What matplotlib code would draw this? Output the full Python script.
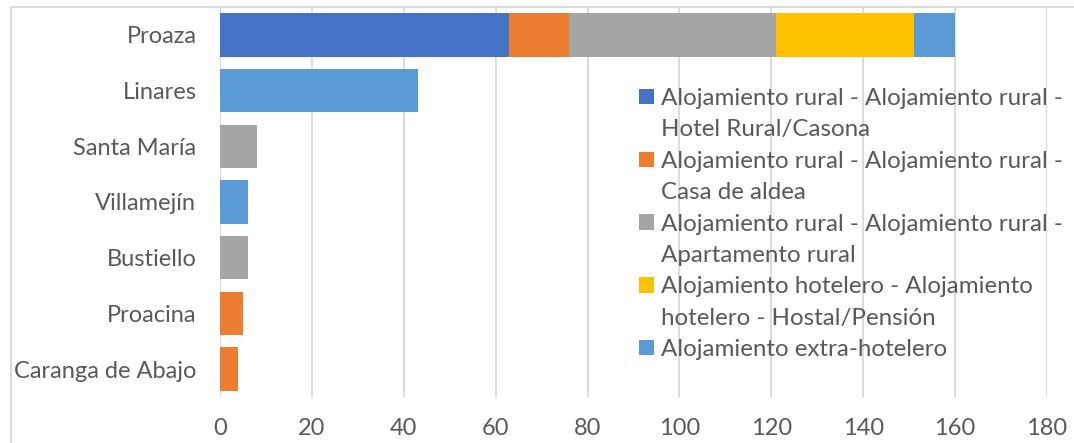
import matplotlib
matplotlib.use("Agg")
import matplotlib.pyplot as plt
from matplotlib.patches import Patch
from matplotlib.lines import Line2D

plt.rcParams['font.family'] = ['Lato', 'DejaVu Sans']

places = ["Proaza", "Linares", "Santa María", "Villamejín", "Bustiello",
          "Proacina", "Caranga de Abajo"]

series_names = [
    "Alojamiento rural - Alojamiento rural -\nHotel Rural/Casona",
    "Alojamiento rural - Alojamiento rural -\nCasa de aldea",
    "Alojamiento rural - Alojamiento rural -\nApartamento rural",
    "Alojamiento hotelero - Alojamiento\nhotelero - Hostal/Pensión",
    "Alojamiento extra-hotelero",
]
colors = ["#4472C4", "#ED7D31", "#A5A5A5", "#FFC000", "#5B9BD5"]

hotel_rural = [63, 0, 0, 0, 0, 0, 0]
casa_aldea = [13, 0, 0, 0, 0, 5, 4]
apartamento = [45, 0, 8, 0, 6, 0, 0]
hostal = [30, 0, 0, 0, 0, 0, 0]
extra_hotelero = [9, 43, 0, 6, 0, 0, 0]

values = [hotel_rural, casa_aldea, apartamento, hostal, extra_hotelero]
xticks = [0, 20, 40, 60, 80, 100, 120, 140, 160, 180]

W, H = 1074, 443
fig = plt.figure(figsize=(W / 100, H / 100), dpi=100)
ax = fig.add_axes([220 / W, (H - 397) / H, (1047 - 220) / W, (397 - 7) / H])

text_color = "#595959"
grid_color = "#D9D9D9"

ypos = list(range(len(places)))
left = [0] * len(places)
for vals, col in zip(values, colors):
    ax.barh(ypos, vals, left=left, height=0.78, color=col, zorder=3)
    left = [a + b for a, b in zip(left, vals)]

ax.set_ylim(len(places) - 0.5, -0.5)
ax.set_xlim(0, 180)
ax.set_xticks(xticks)
ax.set_yticks(ypos)
ax.set_yticklabels(places)
ax.xaxis.grid(True, color=grid_color, linewidth=1.3, zorder=0)
ax.set_axisbelow(True)
for s in ax.spines.values():
    s.set_visible(False)
ax.tick_params(axis="both", length=0, labelsize=17, colors=text_color)
ax.tick_params(axis="y", pad=17)
ax.tick_params(axis="x", pad=15)

# legend: one row per text line so the square sits on the first line
handles, labels = [], []
blank = Line2D([], [], linestyle="none")
for name, col in zip(series_names, colors):
    lines = name.split("\n")
    handles.append(Patch(facecolor=col, edgecolor="none"))
    labels.append(lines[0])
    for extra in lines[1:]:
        handles.append(blank)
        labels.append(extra)

leg = fig.legend(handles, labels, loc="upper left",
                 bbox_to_anchor=(639 / W, (H - 88) / H),
                 frameon=False, fontsize=17.4, labelcolor=text_color,
                 handlelength=0.6, handleheight=0.6, handletextpad=0.3,
                 labelspacing=0.43, borderpad=0, borderaxespad=0)

# outer chart border (only top and left fall inside the picture)
fig.add_artist(Line2D([11 / W, 11 / W], [0, (H - 7) / H], transform=fig.transFigure,
                      color=grid_color, linewidth=1.3))
fig.add_artist(Line2D([11 / W, 1], [(H - 7) / H, (H - 7) / H], transform=fig.transFigure,
                      color=grid_color, linewidth=1.3))

fig.savefig("out.png", dpi=100)
